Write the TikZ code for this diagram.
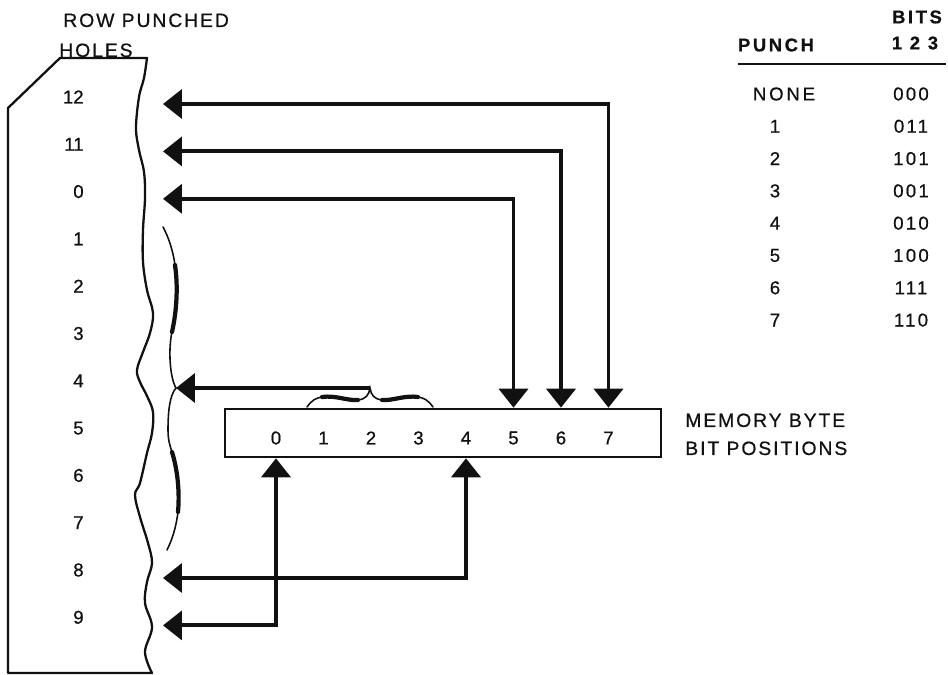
\documentclass[tikz,border=0pt]{standalone}
\usepackage{fontspec}
\setmainfont{Liberation Sans}[FakeBold=0.6]
\usetikzlibrary{positioning,arrows.meta,calc}
\definecolor{ink}{HTML}{111111}
\newcommand{\nm}{\fontsize{10.6pt}{12pt}\selectfont}
\newcommand{\hd}{\fontsize{11pt}{13pt}\selectfont\addfontfeatures{LetterSpace=10}}
\newcommand{\tbh}{\fontsize{10.5pt}{12pt}\selectfont\bfseries\addfontfeatures{LetterSpace=14}}
\tikzset{
  card/.style={draw=ink, line width=1.3pt, line join=round},
  bytebox/.style={draw=ink, line width=1.5pt, minimum width=8.72cm, minimum height=0.96cm, inner sep=0pt},
  arr/.style={-{Triangle[length=0.38cm,width=0.58cm]}, line width=2.2pt, color=ink},
  dbl/.style={{Triangle[length=0.38cm,width=0.58cm]}-{Triangle[length=0.38cm,width=0.58cm]},
    line width=2.2pt, color=ink},
  brc/.style={draw=ink, line width=0.9pt, line cap=round},
  brcthick/.style={draw=ink, line width=2.4pt, line cap=round},
  num/.style={font=\nm, text=ink, inner sep=0pt},
  lab/.style={font=\hd, text=ink, inner sep=0pt, anchor=base west},
  tabhd/.style={font=\tbh, text=ink, inner sep=0pt},
}

\begin{document}
\begin{tikzpicture}[x=0.02cm, y=-0.02cm]
    \path[use as bounding box, fill=white] (0,0) rectangle (948,675);
    % card with torn right edge
    \draw[card] (8,673) -- (8,108) -- (60,58) -- (147,58)
      -- plot[smooth, tension=0.6] coordinates {(147,58) (144,78) (139,97) (136,128) (139,150)
        (144,172) (145,198) (143,230) (143,262) (147,290) (153,313) (150,333) (143,352)
        (137,370) (140,382) (147,396) (153,412) (152,433) (147,453) (140,483) (135,495)
        (140,517) (148,543) (152,563) (147,582) (145,603) (152,627) (145,652) (152,673)}
      -- cycle;
    \foreach \r [count=\i from 0] in {12,11,0,1,2,3,4,5,6,7,8,9} {
      \node[num, anchor=east] (row\r) at (84,97+47.3*\i) {\r};
      \coordinate (tip\r) at (163,104+47.4*\i);
    }
    \node[lab] (rowhd) at (63,27) {ROW PUNCHED};
    \node[lab] (holes) at (59,57) {HOLES};
    % large brace over rows 1-7
    \coordinate (cusp) at (176,388);
    \draw[brc] (163,227) .. controls (168,236) and (173,250) .. (175,265)
      .. controls (178,285) and (177,310) .. (172,332)
      .. controls (168,350) and (170,378) .. (cusp)
      .. controls (170,395) and (168,410) .. (168,430)
      .. controls (168,440) and (170,446) .. (172,452)
      .. controls (177,468) and (180,490) .. (178,512)
      .. controls (176,528) and (172,540) .. (167,550);
    \draw[brcthick] (175,265) .. controls (178,285) and (177,310) .. (172,332);
    \draw[brcthick] (172,452) .. controls (177,468) and (180,490) .. (178,512);
    % memory byte
    \node[bytebox] (byte) at (443,433) {};
    \foreach \b in {0,...,7}
      \node[num] (bit\b) at (276+47.5*\b,438) {\b};
    \node[lab] (mem) at (685,427) {MEMORY BYTE};
    \node[lab] (pos) at (685,455) {BIT POSITIONS};
    % small brace over bits 1-3
    \coordinate (bcusp) at (370,388);
    \draw[brc] (307,407) .. controls (312,400) and (316,398) .. (322,397)
      .. controls (335,395) and (348,401) .. (358,400)
      .. controls (366,399) and (369,395) .. (bcusp)
      .. controls (371,395) and (374,399) .. (382,400)
      .. controls (392,401) and (405,395) .. (418,397)
      .. controls (424,398) and (428,400) .. (433,407);
    \draw[brcthick] (322,397) .. controls (335,395) and (348,401) .. (358,400);
    \draw[brcthick] (382,400) .. controls (392,401) and (405,395) .. (418,397);
    % connectors
    \draw[dbl] (tip12) -| (bit7 |- byte.north);
    \draw[dbl] (tip11) -| (bit6 |- byte.north);
    \draw[dbl] (tip0) -| (bit5 |- byte.north);
    \draw[arr] (bcusp) -- (cusp);
    \draw[dbl] (tip8) -| (bit4 |- byte.south);
    \draw[dbl] (tip9) -| (bit0 |- byte.south);
    % punch table
    \node[tabhd] (bits) at (917,17) {BITS};
    \node[tabhd] (cols) at (915,43) {1 2 3};
    \node[tabhd] (punch) at (776,45) {PUNCH};
    \draw[ink, line width=1.6pt] (738,64) -- (946,64);
    \node[num, font=\nm\addfontfeatures{LetterSpace=15}] (p0) at (784,94) {NONE};
    \node[num, font=\nm\addfontfeatures{LetterSpace=12}] (v0) at (911,94) {000};
    \foreach \p/\v [count=\i] in {1/011,2/101,3/001,4/010,5/100,6/111,7/110} {
      \node[num] (p\i) at (775,94+32.3*\i) {\p};
      \node[num, font=\nm\addfontfeatures{LetterSpace=12}] (v\i) at (911,94+32.3*\i) {\v};
    }
\end{tikzpicture}
\end{document}
